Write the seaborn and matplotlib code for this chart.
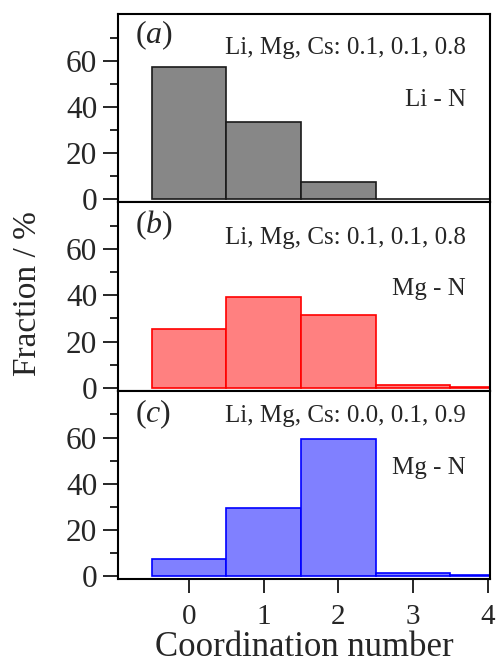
import numpy as np
import pandas as pd
import matplotlib
matplotlib.use('Agg')
import matplotlib.pyplot as plt
import seaborn as sns
from matplotlib.ticker import FixedLocator

# data
coord = [0, 1, 2, 3, 4]
frac_a = [57.5, 33.5, 7.5, 0.0, 0.0]
frac_b = [25.5, 39.5, 31.5, 1.2, 0.5]
frac_c = [7.5, 29.5, 59.5, 1.2, 0.3]

letters = ['a', 'b', 'c']
compositions = ['Li, Mg, Cs: 0.1, 0.1, 0.8', 'Li, Mg, Cs: 0.1, 0.1, 0.8', 'Li, Mg, Cs: 0.0, 0.1, 0.9']
pairs = ['Li - N', 'Mg - N', 'Mg - N']
fills = ['#878787', '#ff8080', '#8080ff']
edges = ['#1a1a1a', '#ff0000', '#0000ff']

# text baselines (axes fraction) per panel
letter_y = [0.845, 0.835, 0.835]
comp_y = [0.79, 0.777, 0.835]
pair_y = [0.513, 0.51, 0.56]

sns.set_style('ticks')
plt.rcParams['font.family'] = ['Liberation Serif', 'DejaVu Serif']
plt.rcParams['mathtext.fontset'] = 'custom'
plt.rcParams['mathtext.it'] = 'Liberation Serif:italic'
plt.rcParams['mathtext.rm'] = 'Liberation Serif'

fig = plt.figure(figsize=(4.97, 6.68), dpi=100)
gs = fig.add_gridspec(3, 1, left=0.2374, right=0.986, top=0.979, bottom=0.1332, hspace=0)
axes = [fig.add_subplot(gs[i]) for i in range(3)]

for i, (ax, frac) in enumerate(zip(axes, [frac_a, frac_b, frac_c])):
    df = pd.DataFrame({'coord': coord, 'frac': frac})
    sns.histplot(data=df, x='coord', weights='frac', discrete=True, ax=ax,
                 color=fills[i], edgecolor=edges[i], linewidth=1.2, alpha=1)
    ax.set_xlim(-0.95, 4.03)
    ax.set_ylim(-1.3, 80.3)
    ax.yaxis.set_major_locator(FixedLocator([0, 20, 40, 60]))
    ax.yaxis.set_minor_locator(FixedLocator([10, 30, 50, 70]))
    ax.tick_params(axis='y', which='major', length=11, width=1.4, labelsize=22.5, pad=4)
    ax.tick_params(axis='y', which='minor', length=5.5, width=1.4)
    ax.set_ylabel('')
    ax.set_xlabel('')
    for s in ax.spines.values():
        s.set_linewidth(1.5)
        s.set_color('black')
    if i < 2:
        ax.tick_params(axis='x', which='both', bottom=False, labelbottom=False)
    else:
        ax.set_xticks([0, 1, 2, 3, 4])
        ax.tick_params(axis='x', length=10, width=1.4, labelsize=21, pad=8)
        ax.set_xlabel('Coordination number', fontsize=25, labelpad=1)
    ax.text(0.046, letter_y[i], '(' + r'$\mathit{' + letters[i] + '}$' + ')', transform=ax.transAxes,
            fontsize=23, ha='left', va='baseline')
    ax.text(0.935, comp_y[i], compositions[i], transform=ax.transAxes,
            fontsize=18, ha='right', va='baseline')
    ax.text(0.935, pair_y[i], pairs[i], transform=ax.transAxes,
            fontsize=18, ha='right', va='baseline')

fig.text(0.056, 0.56, 'Fraction / %', rotation=90, fontsize=24, ha='center', va='center')

fig.savefig('out.png', dpi=100)
